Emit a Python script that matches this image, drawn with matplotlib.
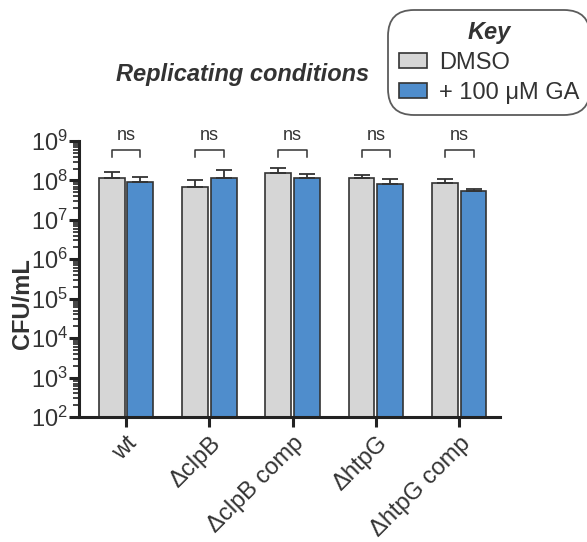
import matplotlib.pyplot as plt
from matplotlib.patches import Patch
from matplotlib.ticker import LogLocator, NullFormatter
import numpy as np

plt.rcParams['font.family'] = ['Liberation Sans', 'DejaVu Sans']
plt.rcParams['mathtext.fontset'] = 'custom'
plt.rcParams['mathtext.rm'] = 'Liberation Sans'
plt.rcParams['mathtext.it'] = 'Liberation Sans:italic'
plt.rcParams['mathtext.bf'] = 'Liberation Sans:bold'

strains = ['wt', '\u0394clpB', '\u0394clpB comp', '\u0394htpG', '\u0394htpG comp']
dmso = [1.15e8, 6.9e7, 1.55e8, 1.15e8, 8.7e7]
dmso_err = [1.68e8, 1.02e8, 2.1e8, 1.38e8, 1.08e8]   # top of error bar
ga = [8.9e7, 1.15e8, 1.15e8, 8.1e7, 5.4e7]
ga_err = [1.23e8, 1.85e8, 1.48e8, 1.08e8, 6.2e7]
sig = ['ns', 'ns', 'ns', 'ns', 'ns']

grey = '#d6d6d6'
blue = '#4f8dcc'
edge = '#333333'

fig = plt.figure(figsize=(5.87, 5.42), dpi=100)
ax = fig.add_axes([79/587, 1-417/542, (500-79)/587, (417-141)/542])

x = np.arange(len(strains))
w = 0.31
off = 0.172
d = np.array(dmso)
g = np.array(ga)
ax.bar(x-off, d, w, color=grey, edgecolor=edge, linewidth=1.2,
       yerr=[np.zeros(5), np.array(dmso_err)-d], capsize=5.5,
       error_kw=dict(ecolor=edge, elinewidth=1.3, capthick=1.3), zorder=2)
ax.bar(x+off, g, w, color=blue, edgecolor=edge, linewidth=1.2,
       yerr=[np.zeros(5), np.array(ga_err)-g], capsize=5.5,
       error_kw=dict(ecolor=edge, elinewidth=1.3, capthick=1.3), zorder=2)

ax.set_yscale('log')
ax.set_ylim(1e2, 1e9)
ax.set_xlim(-0.565, 4.49)

# significance brackets
for i, s in enumerate(sig):
    yb = 10**8.78
    yl = 10**8.6
    ax.plot([i-off, i-off, i+off, i+off], [yl, yb, yb, yl], color=edge, lw=1.1,
            clip_on=False)
    ax.text(i, 10**8.93, s, ha='center', va='bottom', fontsize=13, color='#333333')

for sp in ['top', 'right']:
    ax.spines[sp].set_visible(False)
for sp in ['left', 'bottom']:
    ax.spines[sp].set_linewidth(2.2)
    ax.spines[sp].set_color('#222222')

ax.set_xticks(x)
ax.set_xticklabels(strains, rotation=45, ha='right', rotation_mode='anchor',
                   fontsize=17, color='#333333')
ax.tick_params(axis='x', length=7, width=2.2, color='#222222', pad=4)
ax.set_yticks([10**k for k in range(2, 10)])
ax.yaxis.set_minor_locator(LogLocator(base=10, subs=np.arange(2, 10), numticks=30))
ax.yaxis.set_minor_formatter(NullFormatter())
ax.tick_params(axis='y', which='major', length=7, width=2.2, color='#222222',
               labelsize=17, pad=1, labelcolor='#333333')
ax.tick_params(axis='y', which='minor', length=4, width=1.2, color='#222222')

fig.text(23/587, 1-304/542, 'CFU/mL', rotation=90, ha='center', va='center',
         fontsize=17, fontweight='bold', color='#333333')
fig.text(243/587, 1-75/542, 'Replicating conditions', ha='center', va='center',
         fontsize=17, fontweight='bold', fontstyle='italic', color='#333333')

handles = [Patch(facecolor=grey, edgecolor=edge, linewidth=1.2),
           Patch(facecolor=blue, edgecolor=edge, linewidth=1.2)]
leg = fig.legend(handles, ['DMSO', '+ 100 \u03bcM GA'], loc='upper left',
                 bbox_to_anchor=(388/587, 1-10/542), fontsize=17, title='Key',
                 title_fontproperties=dict(size=17, weight='bold', style='italic'),
                 handlelength=1.2, handleheight=0.6, handletextpad=0.5,
                 labelspacing=0.35, borderpad=0.45, borderaxespad=0,
                 frameon=True, fancybox=True, labelcolor='#333333')
leg.get_title().set_color('#333333')
fr = leg.get_frame()
fr.set_edgecolor('#333333')
fr.set_linewidth(1.3)
fr.set_boxstyle('round,pad=0,rounding_size=1.1')

fig.savefig('out.png', dpi=100)
